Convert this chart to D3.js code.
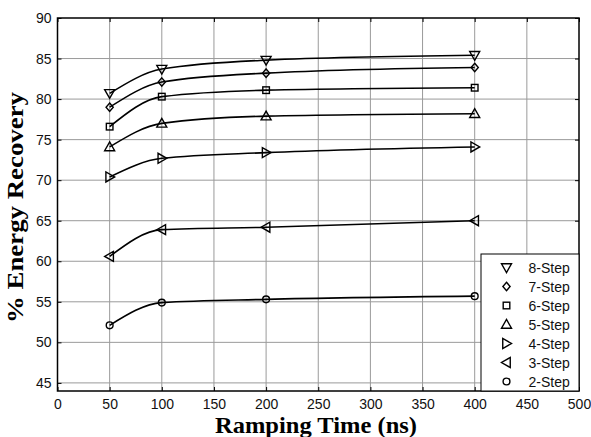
<html>
<head>
  <script src="https://d3js.org/d3.v7.min.js"></script>
  <style>
    body { margin: 0; background: white; }
    svg { display: block; }
    .tick text { font-family: Arial, "Liberation Sans", sans-serif; font-size: 14px; fill: #111; }
  </style>
</head>
<body>
<div id="chart"></div>
<script>
  // Data
  var rampTimes = [50, 100, 200, 400];
  var step8 = [80.7, 83.7, 84.8, 85.4];
  var step7 = [79.0, 82.1, 83.2, 83.9];
  var step6 = [76.6, 80.3, 81.1, 81.4];
  var step5 = [74.1, 77.0, 77.9, 78.2];
  var step4 = [70.4, 72.7, 73.4, 74.1];
  var step3 = [60.6, 63.9, 64.2, 65.0];
  var step2 = [52.1, 54.9, 55.3, 55.7];
  var seriesNames = ["8-Step", "7-Step", "6-Step", "5-Step", "4-Step", "3-Step", "2-Step"];
  var seriesMarkers = ["tridown", "diamond", "square", "triup", "triright", "trileft", "circle"];
  var xTicks = [0, 50, 100, 150, 200, 250, 300, 350, 400, 450, 500];
  var yTicks = [45, 50, 55, 60, 65, 70, 75, 80, 85, 90];

  var seriesValues = [step8, step7, step6, step5, step4, step3, step2];

  var width = 591, height = 437;
  var margin = {top: 18, right: 12, bottom: 46, left: 57.5};
  var plotW = width - margin.left - margin.right,
      plotH = height - margin.top - margin.bottom;

  var svg = d3.select("#chart").append("svg")
    .attr("width", width).attr("height", height);

  var g = svg.append("g").attr("transform", "translate(" + margin.left + "," + margin.top + ")");

  var x = d3.scaleLinear().domain([0, 500]).range([0, plotW]);
  var y = d3.scaleLinear().domain([44, 90]).range([plotH, 0]);

  // grid
  g.append("g").selectAll("line").data(xTicks.slice(1, -1)).enter().append("line")
    .attr("x1", function(d) { return x(d); }).attr("x2", function(d) { return x(d); })
    .attr("y1", 0).attr("y2", plotH)
    .attr("stroke", "#9a9a9a").attr("stroke-width", 1);
  g.append("g").selectAll("line").data(yTicks.slice(0, -1)).enter().append("line")
    .attr("x1", 0).attr("x2", plotW)
    .attr("y1", function(d) { return y(d); }).attr("y2", function(d) { return y(d); })
    .attr("stroke", "#9a9a9a").attr("stroke-width", 1);

  // axes (ticks inside)
  g.append("g").attr("transform", "translate(0," + plotH + ")")
    .call(d3.axisBottom(x).tickValues(xTicks).tickSize(-4).tickPadding(8).tickSizeOuter(0));
  g.append("g")
    .call(d3.axisLeft(y).tickValues(yTicks).tickSize(-4).tickPadding(6).tickSizeOuter(0));
  g.append("g")
    .call(d3.axisTop(x).tickValues(xTicks).tickSize(-4).tickFormat("").tickSizeOuter(0));
  g.append("g").attr("transform", "translate(" + plotW + ",0)")
    .call(d3.axisRight(y).tickValues(yTicks).tickSize(-4).tickFormat("").tickSizeOuter(0));
  g.selectAll(".domain").remove();
  g.selectAll(".tick line").attr("stroke", "#000");

  g.append("rect").attr("x", 0).attr("y", 0).attr("width", plotW).attr("height", plotH)
    .attr("fill", "none").attr("stroke", "#000").attr("stroke-width", 1.5);

  // markers
  function marker(sel, type, cx, cy) {
    var s = 5;
    var pts;
    if (type === "circle") {
      return sel.append("circle").attr("cx", cx).attr("cy", cy).attr("r", 3.4)
        .attr("fill", "none").attr("stroke", "#000").attr("stroke-width", 1.4);
    }
    if (type === "square") {
      return sel.append("rect").attr("x", cx - 3.3).attr("y", cy - 3.3).attr("width", 6.6).attr("height", 6.6)
        .attr("fill", "none").attr("stroke", "#000").attr("stroke-width", 1.4);
    }
    if (type === "diamond") pts = [[0, -4.2], [3.6, 0], [0, 4.2], [-3.6, 0]];
    if (type === "tridown") pts = [[-s, -s * 0.75], [s, -s * 0.75], [0, s]];
    if (type === "triup") pts = [[-s, s * 0.75], [s, s * 0.75], [0, -s]];
    if (type === "triright") pts = [[-s * 0.75, -s], [-s * 0.75, s], [s, 0]];
    if (type === "trileft") pts = [[s * 0.75, -s], [s * 0.75, s], [-s, 0]];
    return sel.append("polygon")
      .attr("points", pts.map(function(p) { return (cx + p[0]) + "," + (cy + p[1]); }).join(" "))
      .attr("fill", "none").attr("stroke", "#000").attr("stroke-width", 1.4);
  }

  var line = d3.line()
    .x(function(d, i) { return x(rampTimes[i]); })
    .y(function(d) { return y(d); })
    .curve(d3.curveMonotoneX);

  seriesValues.forEach(function(vals, k) {
    g.append("path").attr("d", line(vals))
      .attr("fill", "none").attr("stroke", "#000").attr("stroke-width", 1.6);
    vals.forEach(function(v, i) {
      marker(g, seriesMarkers[k], x(rampTimes[i]), y(v));
    });
  });

  // legend
  var legW = 98, legH = 137;
  var leg = g.append("g").attr("transform", "translate(" + (plotW - legW) + "," + (plotH - legH) + ")");
  leg.append("rect").attr("width", legW).attr("height", legH)
    .attr("fill", "white").attr("stroke", "#000").attr("stroke-width", 1);
  seriesNames.forEach(function(name, k) {
    var ly = 13.5 + k * 19;
    marker(leg, seriesMarkers[k], 25.5, ly);
    leg.append("text").attr("x", 47.5).attr("y", ly + 5)
      .style("font-family", "Arial, 'Liberation Sans', sans-serif").style("font-size", "14px")
      .attr("fill", "#111").text(name);
  });

  // titles
  svg.append("text").attr("x", 316).attr("y", 433).attr("text-anchor", "middle")
    .style("font-family", "'Times New Roman', 'Liberation Serif', serif")
    .style("font-weight", "bold").style("font-size", "23px")
    .attr("textLength", 202).attr("lengthAdjust", "spacingAndGlyphs")
    .text("Ramping Time (ns)");
  svg.append("text").attr("transform", "translate(23,207.5) rotate(-90)").attr("text-anchor", "middle")
    .style("font-family", "'Times New Roman', 'Liberation Serif', serif")
    .style("font-weight", "bold").style("font-size", "24px")
    .attr("textLength", 231).attr("lengthAdjust", "spacingAndGlyphs")
    .text("% Energy Recovery");
</script>
</body>
</html>
